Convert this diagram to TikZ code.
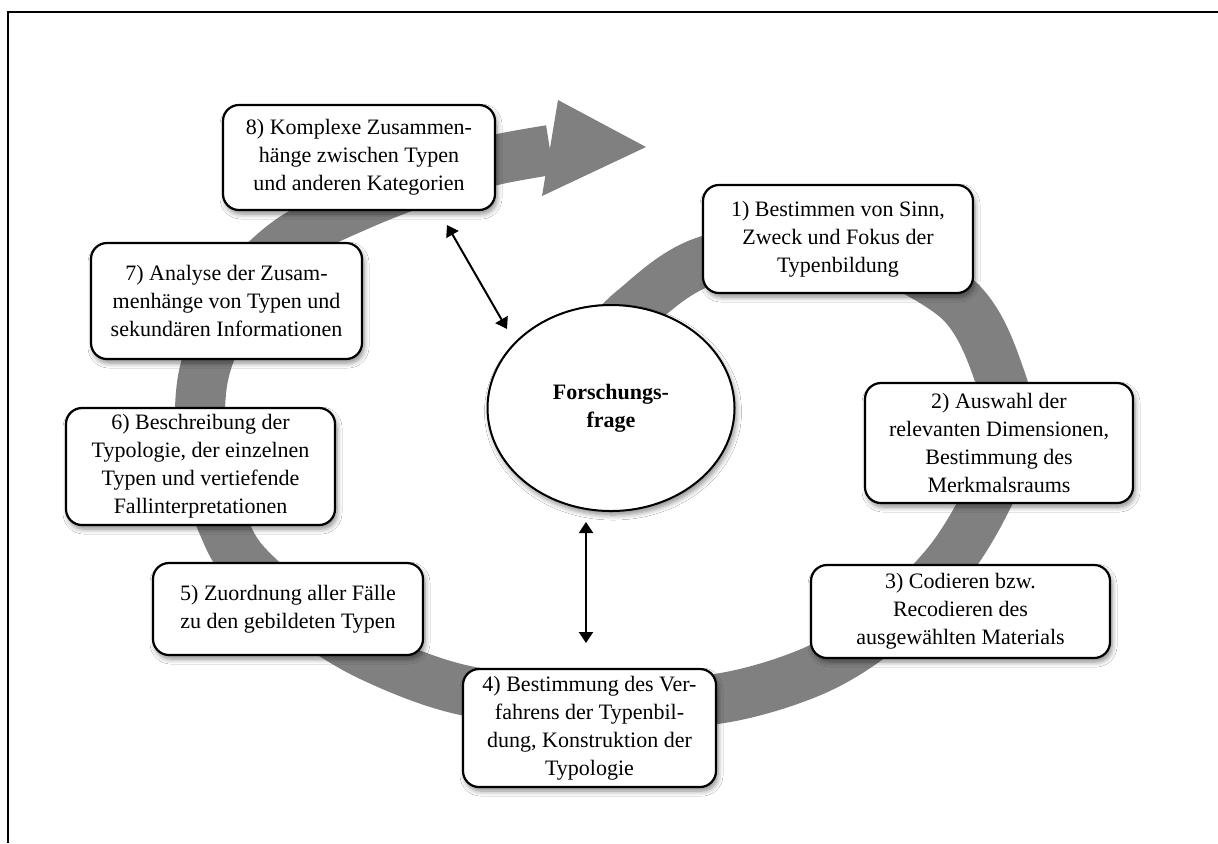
\documentclass[tikz,border=0pt]{standalone}
\usepackage{fontspec}
\setmainfont{Liberation Serif}
\usetikzlibrary{shadows.blur,arrows.meta,shapes.geometric}
\definecolor{bandgrey}{RGB}{128,128,128}
\tikzset{
  softshadow/.style={blur shadow={shadow xshift=1pt, shadow yshift=-2pt,
      shadow blur radius=2.5pt, shadow blur steps=6, shadow opacity=45}},
  stepbox/.style={draw=black, line width=1.1pt, fill=white, rounded corners=8pt,
      align=center, font=\fontsize{11}{14}\selectfont, inner sep=2pt, softshadow},
  hub/.style={draw=black, line width=1pt, fill=white, ellipse, inner sep=0pt,
      align=center, font=\fontsize{11}{14}\selectfont\bfseries, softshadow},
  link/.style={line width=1pt, {Triangle[width=7pt,length=5.5pt]}-{Triangle[width=7pt,length=5.5pt]}},
  band/.style={bandgrey, line width=25pt}
}
\begin{document}
\begin{tikzpicture}[x=0.5pt, y=-0.5pt]
\useasboundingbox (0,0) rectangle (1218,843);
\fill[white] (0,0) rectangle (1218,843);

% frame lines (top and left only)
\draw[line width=1.3pt] (1218,12) -- (8,12) -- (8,843);

% spiral band behind the steps
\draw[band] plot[smooth, tension=0.55] coordinates {
  (600,345) (633,310) (703,262) (830,240) (955,297) (1001,380) (1008,443)
  (985,503) (946,565) (880,630) (811,672) (716,699) (590,704) (463,690)
  (368,655) (300,612) (245,563) (223,525) (203,466) (200,408) (208,359)
  (240,290) (290,240) (360,205) (430,178) (495,160) (550,150)};
\fill[bandgrey] (558,100) -- (646,147) -- (542,196) -- cycle;

% steps
\node[stepbox, minimum width=135pt, minimum height=54pt] (s1) at (838,239)
  {1) Bestimmen von Sinn,\\Zweck und Fokus der\\Typenbildung};
\node[stepbox, minimum width=134pt, minimum height=60pt] (s2) at (999,443)
  {2) Auswahl der\\relevanten Dimensionen,\\Bestimmung des\\Merkmalsraums};
\node[stepbox, minimum width=149.5pt, minimum height=46.5pt] (s3) at (960.5,611.5)
  {3) Codieren bzw.\\Recodieren des\\ausgewählten Materials};
\node[stepbox, minimum width=126.5pt, minimum height=59pt] (s4) at (589.5,728)
  {4) Bestimmung des Ver-\\fahrens der Typenbil-\\dung, Konstruktion der\\Typologie};
\node[stepbox, minimum width=135pt, minimum height=46pt] (s5) at (288,609)
  {5) Zuordnung aller Fälle\\zu den gebildeten Typen};
\node[stepbox, minimum width=134.5pt, minimum height=58.5pt] (s6) at (200.5,466.5)
  {6) Beschreibung der\\Typologie, der einzelnen\\Typen und vertiefende\\Fallinterpretationen};
\node[stepbox, minimum width=135.5pt, minimum height=58pt] (s7) at (226.5,301)
  {7) Analyse der Zusam-\\menhänge von Typen und\\sekundären Informationen};
\node[stepbox, minimum width=136pt, minimum height=52.5pt] (s8) at (359,157.5)
  {8) Komplexe Zusammen-\\hänge zwischen Typen\\und anderen Kategorien};

% research question
\node[hub, minimum width=123.5pt, minimum height=103pt] (q) at (611,408)
  {Forschungs-\\frage};

% links between the research question and the steps
\coordinate (l1a) at (447,225);
\coordinate (l1b) at (507,329);
\coordinate (l2a) at (586,522);
\coordinate (l2b) at (586,643);
\draw[link] (l1a) -- (l1b);
\draw[link] (l2a) -- (l2b);
\end{tikzpicture}
\end{document}
